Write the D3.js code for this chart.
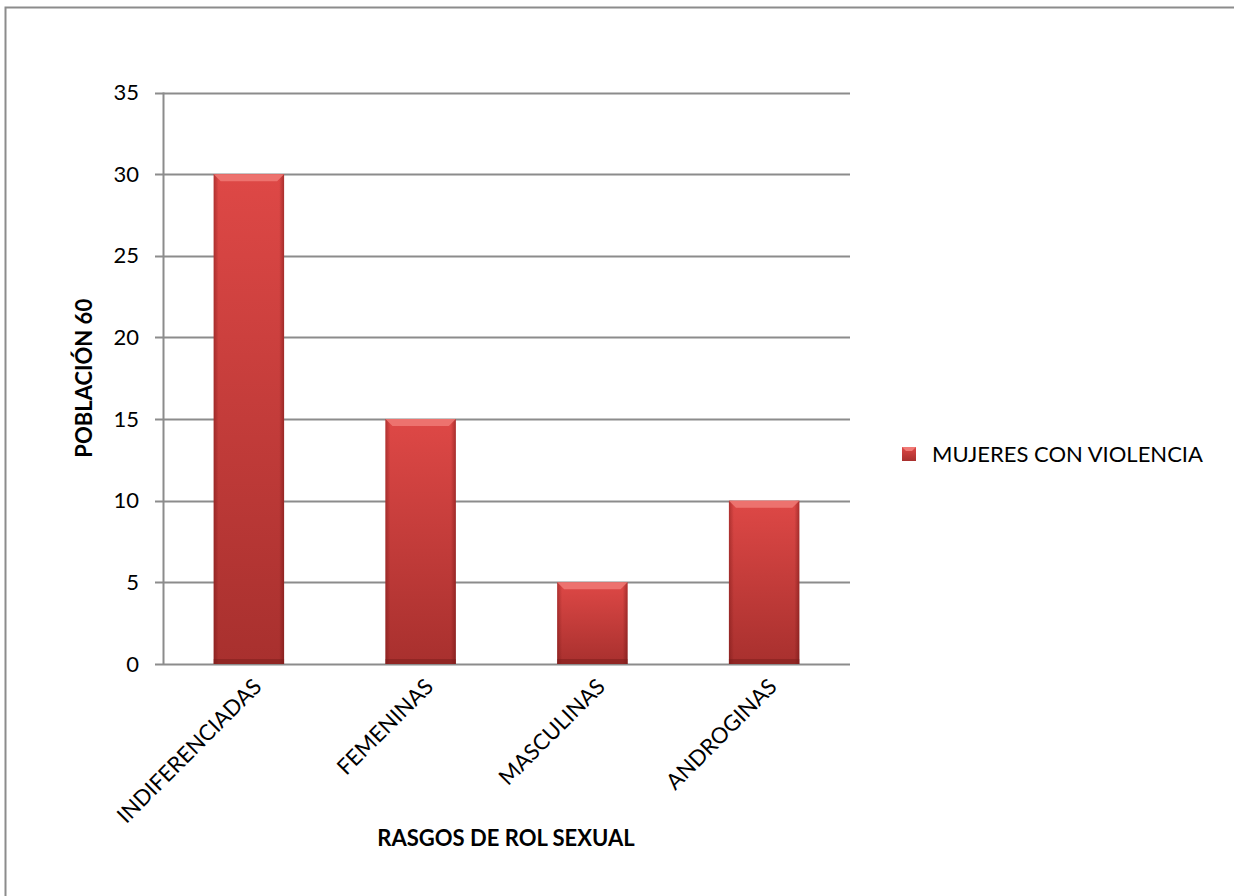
<!DOCTYPE html>
<html>
<head>
<meta charset="utf-8">
<script src="https://cdn.jsdelivr.net/npm/d3@7"></script>
<style>
  body { margin: 0; background: #fff; }
  svg { display: block; font-family: Lato, "Open Sans", "Liberation Sans", sans-serif; }
</style>
</head>
<body>
<svg id="chart" width="1234" height="896"></svg>
<script>
const categories = ["INDIFERENCIADAS", "FEMENINAS", "MASCULINAS", "ANDROGINAS"];
const values = [30, 15, 5, 10];
const yTicks = [0, 5, 10, 15, 20, 25, 30, 35];
const seriesName = "MUJERES CON VIOLENCIA";
const yTitle = "POBLACIÓN 60";
const xTitle = "RASGOS DE ROL SEXUAL";

const svg = d3.select("#chart");
const plot = { left: 163, right: 850, top: 92.5, bottom: 664 };
const fs = 22;

// outer frame
svg.append("rect")
  .attr("x", 5.5).attr("y", 7.5).attr("width", 1240).attr("height", 900)
  .attr("fill", "none").attr("stroke", "#8c8c8c").attr("stroke-width", 2);

const defs = svg.append("defs");
const vg = defs.append("linearGradient").attr("id", "barV").attr("x1", 0).attr("y1", 0).attr("x2", 0).attr("y2", 1);
vg.append("stop").attr("offset", "0%").attr("stop-color", "#de4846");
vg.append("stop").attr("offset", "100%").attr("stop-color", "#a8302e");
const hg = defs.append("linearGradient").attr("id", "barH").attr("x1", 0).attr("y1", 0).attr("x2", 1).attr("y2", 0);
hg.append("stop").attr("offset", "0%").attr("stop-color", "#5a0a0a").attr("stop-opacity", 0.35);
hg.append("stop").attr("offset", "7%").attr("stop-color", "#5a0a0a").attr("stop-opacity", 0);
hg.append("stop").attr("offset", "93%").attr("stop-color", "#5a0a0a").attr("stop-opacity", 0);
hg.append("stop").attr("offset", "100%").attr("stop-color", "#5a0a0a").attr("stop-opacity", 0.4);

const x = d3.scaleBand().domain(categories).range([plot.left, plot.right]).paddingInner(0.59).paddingOuter(0.295);
const y = d3.scaleLinear().domain([0, 35]).range([plot.bottom, plot.top]);

// gridlines with short tick stubs on the left
svg.append("g").selectAll("line").data(yTicks).join("line")
  .attr("x1", plot.left - 8).attr("x2", plot.right)
  .attr("y1", d => Math.round(y(d)) + 0.5).attr("y2", d => Math.round(y(d)) + 0.5)
  .attr("stroke", "#8c8c8c").attr("stroke-width", 2);

// bars
const bars = svg.append("g").selectAll("g").data(categories).join("g");
bars.append("rect")
  .attr("x", d => x(d)).attr("width", x.bandwidth())
  .attr("y", (d, i) => y(values[i])).attr("height", (d, i) => y(0) - y(values[i]))
  .attr("fill", "url(#barV)");
bars.append("rect")
  .attr("x", d => x(d)).attr("width", x.bandwidth())
  .attr("y", (d, i) => y(values[i])).attr("height", (d, i) => y(0) - y(values[i]))
  .attr("fill", "url(#barH)");
// top bevel
bars.append("path")
  .attr("d", (d, i) => {
    const x0 = x(d), x1 = x0 + x.bandwidth(), yt = y(values[i]), b = 7;
    return `M${x0},${yt}L${x1},${yt}L${x1 - b},${yt + b}L${x0 + b},${yt + b}Z`;
  })
  .attr("fill", "#f07a76").attr("opacity", 0.85);
// bottom shade
bars.append("rect")
  .attr("x", d => x(d)).attr("width", x.bandwidth())
  .attr("y", y(0) - 5).attr("height", 5)
  .attr("fill", "#7a1c1a").attr("opacity", 0.5);

// y axis line
svg.append("line").attr("x1", plot.left + 0.5).attr("x2", plot.left + 0.5).attr("y1", plot.top).attr("y2", plot.bottom)
  .attr("stroke", "#8c8c8c").attr("stroke-width", 2);

// y tick labels
svg.append("g").selectAll("text").data(yTicks).join("text")
  .attr("x", 139).attr("y", d => y(d)).attr("dy", "0.35em")
  .attr("text-anchor", "end").attr("font-size", fs).attr("fill", "#000")
  .text(d => d);

// x tick labels, rotated
svg.append("g").selectAll("text").data(categories).join("text")
  .attr("transform", d => `translate(${x(d) + x.bandwidth() / 2 + 14},${plot.bottom + 24}) rotate(-45)`)
  .attr("text-anchor", "end").attr("font-size", fs).attr("fill", "#000")
  .text(d => d);

// axis titles
svg.append("text")
  .attr("transform", `translate(92,${(plot.top + plot.bottom) / 2 + 0}) rotate(-90)`)
  .attr("text-anchor", "middle").attr("font-size", fs).attr("font-weight", "bold")
  .text(yTitle);
svg.append("text")
  .attr("x", 506).attr("y", 846).attr("text-anchor", "middle")
  .attr("font-size", fs).attr("font-weight", "bold")
  .text(xTitle);

// legend
const lg = svg.append("g").attr("transform", "translate(902,447)");
lg.append("rect").attr("width", 14).attr("height", 14).attr("fill", "url(#barV)");
lg.append("path").attr("d", "M0,0L14,0L10,4L4,4Z").attr("fill", "#f07a76");
lg.append("text").attr("x", 30).attr("y", 7).attr("dy", "0.35em")
  .attr("font-size", fs).text(seriesName);
</script>
</body>
</html>
